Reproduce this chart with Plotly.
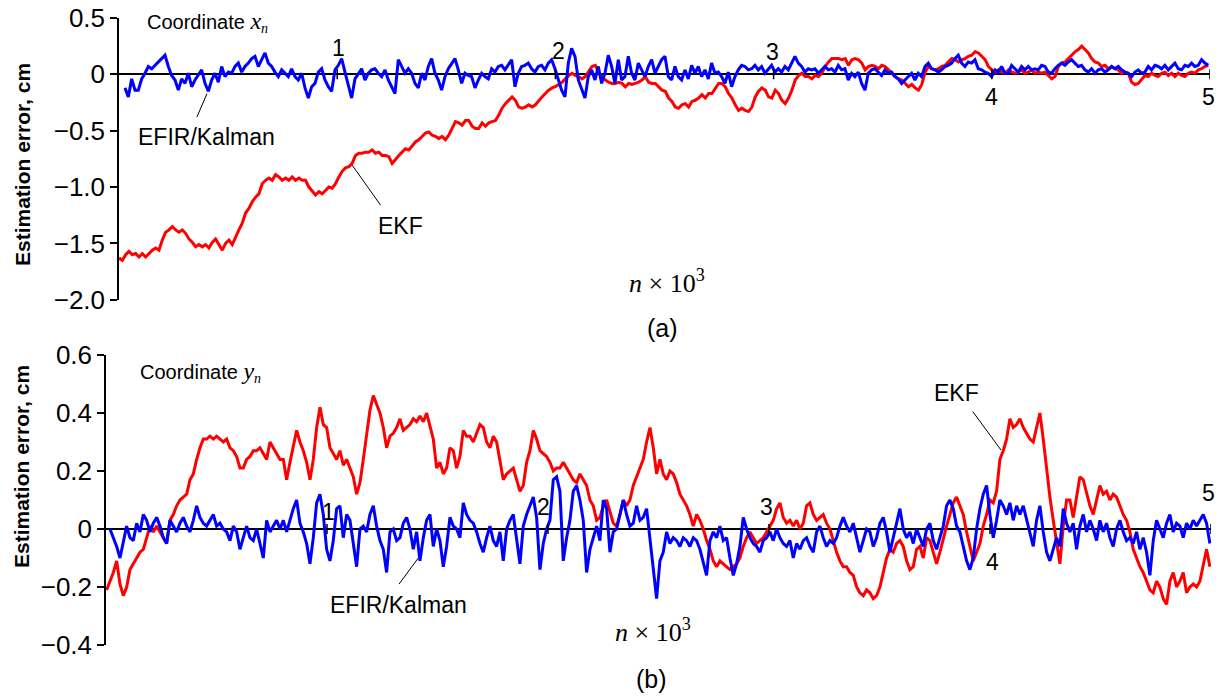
import numpy as np
import plotly.graph_objects as go

W, H = 1217, 698

# ---------------- data: (a) coordinate x_n ----------------
top_blue = [
    -0.12, -0.20, -0.04, -0.14, -0.14, -0.04, 0.01, 0.07, 0.05, 0.08,
    0.11, 0.14, 0.17, 0.07, -0.01, -0.05, -0.14, -0.04, -0.08, 0.01,
    -0.11, -0.05, -0.01, 0.04, -0.08, -0.15, -0.05, 0.01, -0.07, 0.07,
    -0.02, 0.02, 0.01, 0.07, 0.10, 0.02, 0.07, 0.10, 0.14, 0.16,
    0.07, 0.13, 0.19, 0.10, 0.07, 0.02, -0.02, 0.04, 0.01, -0.02,
    0.05, -0.02, -0.05, 0.01, -0.12, -0.21, -0.11, -0.08, 0.02, 0.05,
    -0.05, -0.11, -0.15, 0.04, 0.08, 0.14, 0.02, -0.11, -0.21, -0.04,
    0.01, 0.05, -0.05, 0.01, 0.04, 0.05, 0.01, -0.02, 0.04, -0.05,
    -0.11, -0.17, 0.13, 0.07, 0.01, 0.05, 0.01, -0.08, -0.12, 0.01,
    -0.05, 0.07, 0.14, 0.01, -0.05, -0.14, -0.02, 0.05, 0.10, 0.14,
    0.04, -0.08, 0.01, -0.01, -0.02, -0.12, -0.05, 0.01,
    -0.02, -0.04, 0.05, 0.02, 0.07, 0.08, 0.04, 0.08, 0.13, -0.11,
    0.01, 0.07, 0.08, 0.10, 0.05, 0.02, 0.07, 0.08, 0.04, 0.10,
    0.13, 0.05, -0.04, -0.14, -0.20, 0.10, 0.23, 0.16, -0.05, -0.14,
    -0.21, -0.02, 0.04, -0.05, 0.07, -0.08, 0.01, 0.17, 0.07, -0.08,
    0.13, -0.05, -0.02, 0.16, 0.01, -0.05, 0.10, 0.04, -0.02, 0.07,
    0.13, 0.01, 0.07, 0.13, 0.16, -0.02, -0.05, 0.07, -0.02, -0.05,
    0.04, -0.04, 0.08, 0.01, 0.07, -0.02, 0.04, -0.04, 0.10, 0.01,
    0.02, -0.02, -0.08, 0.02, -0.11, -0.02, 0.04, 0.08, 0.07, 0.04,
    0.05, 0.08, 0.04, 0.07, 0.01, 0.05, 0.08, 0.02, 0.05, 0.02,
    0.07, 0.04, 0.10, 0.16, 0.10, 0.07, 0.02, 0.05, 0.04, 0.05,
    0.01, 0.04, 0.07, 0.04, 0.05, 0.02, 0.08, 0.04, 0.05, -0.05,
    0.01, -0.02, 0.02, -0.08, -0.14, 0.01, 0.04, 0.05, 0.02, -0.01,
    0.04, 0.01, 0.02, -0.02, -0.04, -0.08, -0.05, -0.02, 0.01, -0.05,
    0.01, -0.02, 0.07, 0.10, 0.05, 0.04, 0.02, 0.04, 0.07, 0.08,
    0.10, 0.14, 0.17, 0.10, 0.07, 0.11, 0.10, 0.13, 0.05, 0.04,
    0.02, 0.01, -0.02, 0.04, 0.02, 0.07, 0.01, 0.01, 0.08, 0.05,
    0.02, 0.07, 0.04, 0.07, 0.04, 0.05, 0.04, 0.08, 0.07, 0.02,
    0.01, 0.05, 0.08, 0.10, 0.08, 0.11, 0.13, 0.10, 0.07, 0.08,
    0.04, 0.02, 0.05, 0.01, 0.04, 0.05, 0.02, 0.04, 0.07, 0.05,
    0.07, 0.04, 0.02, 0.01, -0.02, 0.02, 0.04, 0.01, 0.02, 0.07,
    0.04, 0.08, 0.07, 0.05, 0.08, 0.04, 0.07, 0.10, 0.05, 0.04,
    0.08, 0.07, 0.10, 0.07, 0.08, 0.13, 0.10, 0.08,
]
top_red = [
    -1.63, -1.65, -1.60, -1.57, -1.60, -1.59, -1.62, -1.59, -1.62, -1.59,
    -1.56, -1.54, -1.56, -1.47, -1.40, -1.38, -1.35, -1.38, -1.40, -1.38,
    -1.41, -1.46, -1.49, -1.53, -1.51, -1.53, -1.51, -1.54, -1.49, -1.46,
    -1.51, -1.56, -1.50, -1.47, -1.51, -1.44, -1.38, -1.32, -1.23, -1.19,
    -1.13, -1.09, -1.06, -0.97, -0.94, -0.92, -0.94, -0.89, -0.91, -0.94,
    -0.92, -0.94, -0.91, -0.94, -0.92, -0.94, -0.94, -1.00, -1.04, -1.07,
    -1.04, -1.06, -1.03, -1.00, -1.01, -0.97, -0.91, -0.86, -0.83, -0.82,
    -0.79, -0.72, -0.70, -0.70, -0.69, -0.69, -0.67, -0.70, -0.69, -0.72,
    -0.72, -0.73, -0.79, -0.75, -0.72, -0.69, -0.66, -0.67, -0.63, -0.60,
    -0.58, -0.55, -0.52, -0.51, -0.54, -0.55, -0.57, -0.55, -0.58, -0.54,
    -0.48, -0.42, -0.43, -0.45, -0.41, -0.41, -0.46, -0.48, -0.48, -0.43,
    -0.46, -0.43, -0.42, -0.41, -0.36, -0.30, -0.26, -0.23, -0.20, -0.23,
    -0.29, -0.30, -0.29, -0.27, -0.29, -0.27, -0.23, -0.20, -0.17, -0.14,
    -0.12, -0.11, -0.09, -0.07, -0.04, -0.01, 0.01, -0.01, -0.02, -0.04,
    -0.02, 0.02, 0.07, 0.08, 0.02, -0.02, -0.05, -0.07, -0.08, -0.08,
    -0.07, -0.08, -0.11, -0.08, -0.09, -0.08, -0.07, -0.05, -0.02, -0.07,
    -0.08, -0.08, -0.11, -0.14, -0.15, -0.21, -0.24, -0.29, -0.30, -0.27,
    -0.26, -0.29, -0.24, -0.23, -0.21, -0.18, -0.21, -0.17, -0.17, -0.12,
    -0.08, -0.08, -0.11, -0.17, -0.21, -0.27, -0.32, -0.30, -0.32, -0.33,
    -0.29, -0.20, -0.15, -0.12, -0.14, -0.20, -0.21, -0.14, -0.17, -0.23,
    -0.26, -0.21, -0.14, -0.05, -0.01, 0.01, -0.02, -0.02, -0.04, -0.01,
    -0.02, 0.01, 0.07, 0.11, 0.14, 0.14, 0.14, 0.13, 0.14, 0.08,
    0.13, 0.14, 0.13, 0.10, 0.04, 0.07, 0.08, 0.07, 0.05, 0.08,
    0.07, 0.04, 0.01, -0.02, -0.04, -0.05, -0.08, -0.11, -0.09, -0.12,
    -0.14, -0.09, 0.02, 0.07, 0.05, 0.04, 0.05, 0.07, 0.08, 0.11,
    0.14, 0.13, 0.11, 0.13, 0.14, 0.16, 0.17, 0.20, 0.19, 0.16,
    0.13, 0.07, 0.04, 0.02, 0.04, 0.02, 0.01, 0.04, 0.02, 0.01,
    0.02, 0.04, 0.01, 0.02, 0.04, 0.01, 0.02, 0.01, 0.02, -0.01,
    -0.04, -0.02, 0.07, 0.10, 0.11, 0.14, 0.17, 0.20, 0.22, 0.25,
    0.22, 0.19, 0.14, 0.11, 0.10, 0.07, 0.08, 0.05, 0.07, 0.05,
    0.04, 0.01, 0.02, 0.01, -0.07, -0.09, -0.08, -0.04, -0.01, -0.02,
    0.01, -0.01, -0.02, 0.01, 0.02, -0.01, 0.01, -0.02, 0.01, -0.01,
    -0.02, 0.01, 0.02, 0.01, 0.04, 0.05, 0.07, 0.08,
]
top_blue_n0, top_blue_n1 = 0.0275, 4.992
top_red_n0, top_red_n1 = 0.0, 4.992

# ---------------- data: (b) coordinate y_n ----------------
bot_blue = [
    0.00, -0.03, -0.06, -0.10, -0.04, 0.01, -0.03, -0.04, 0.02, -0.01,
    0.05, 0.03, -0.01, 0.02, 0.04, 0.01, -0.03, -0.05, 0.03, 0.01,
    -0.01, 0.02, 0.04, 0.01, -0.01, 0.03, 0.08, 0.04, 0.02, 0.01,
    0.03, 0.05, 0.01, 0.02, 0.00, -0.01, -0.04, 0.01, -0.01, -0.07,
    -0.03, 0.01, -0.03, -0.04, 0.00, -0.05, -0.10, 0.03, -0.01, 0.01,
    0.03, 0.00, 0.03, -0.01, 0.03, 0.07, 0.10, 0.02, -0.01, -0.05,
    -0.12, -0.03, 0.09, 0.12, 0.05, -0.07, -0.11, -0.04, 0.07, 0.08,
    -0.03, 0.05, 0.03, -0.05, -0.13, 0.00, 0.01, -0.01, 0.05, 0.08,
    0.01, -0.04, -0.07, -0.15, -0.01, 0.00, -0.04, -0.03, 0.02, 0.04,
    0.00, -0.07, -0.01, -0.11, -0.03, 0.03, 0.05, -0.06, 0.00, -0.04,
    -0.13, -0.06, 0.04, 0.01, 0.00, -0.03, 0.09, 0.05, 0.03, 0.02,
    -0.01, -0.05, -0.08, -0.03, 0.01, -0.04, -0.06, -0.01, -0.11, 0.00,
    0.03, 0.05, -0.03, -0.12, 0.01, 0.05, 0.08, 0.11, 0.04, -0.14,
    -0.05, 0.00, 0.03, 0.17, 0.18, 0.13, -0.11, -0.03, 0.03, 0.13,
    0.15, 0.10, 0.03, -0.15, -0.07, -0.03, 0.01, -0.04, 0.10, 0.07,
    -0.08, -0.01, 0.00, 0.05, 0.10, 0.05, 0.01, 0.02, 0.08, 0.03,
    0.04, 0.07, -0.03, -0.13, -0.24, -0.11, -0.08, -0.01, -0.05, -0.03,
    -0.04, -0.06, -0.03, -0.04, -0.06, -0.03, -0.04, -0.07, -0.12, -0.16,
    -0.04, -0.01, -0.03, 0.01, -0.04, -0.03, -0.10, -0.16, -0.12, -0.06,
    0.04, 0.00, -0.03, -0.05, -0.06, -0.08, -0.04, -0.03, -0.01, -0.04,
    0.00, -0.03, -0.05, -0.06, -0.04, -0.10, -0.05, -0.07, -0.04, -0.03,
    -0.06, -0.08, -0.01, 0.01, -0.03, -0.06, -0.04, -0.05, -0.03, 0.01, 0.04,
    0.01, -0.01, 0.02, -0.03, -0.08, -0.04, 0.00, -0.01, -0.06, -0.03,
    0.02, 0.04, -0.01, -0.08, -0.03, 0.01, 0.07, 0.00, -0.03, -0.01,
    -0.05, 0.00, -0.03, -0.06, 0.00, 0.02, -0.04, -0.07, -0.03, 0.01,
    0.08, 0.10, 0.07, 0.01, -0.01, -0.06, -0.11, -0.14, -0.10, 0.00,
    0.07, 0.12, 0.15, 0.05, -0.03, 0.03, 0.10, 0.08, 0.05, 0.09,
    0.03, 0.08, 0.05, 0.08, 0.03, -0.01, -0.06, 0.03, 0.08, -0.01,
    -0.08, -0.11, -0.07, -0.03, -0.06, 0.07, 0.02, -0.01, 0.02, -0.07,
    0.01, 0.05, -0.01, 0.03, 0.00, -0.04, 0.03, -0.01, 0.02, -0.03,
    -0.06, 0.00, 0.03, -0.01, -0.04, -0.03, -0.05, -0.01, -0.07, -0.03,
    -0.08, -0.16, -0.04, 0.03, 0.00, -0.03, 0.02, 0.05, -0.01, 0.02,
    0.01, -0.03, 0.02, 0.00, 0.03, 0.01, 0.03, 0.05, 0.02, -0.05,
]
bot_red = [
    -0.21, -0.18, -0.15, -0.11, -0.19, -0.23, -0.20, -0.14, -0.12, -0.10,
    -0.08, -0.07, -0.03, 0.01, -0.01, 0.01, -0.01, -0.03, -0.05, 0.03,
    0.05, 0.08, 0.10, 0.11, 0.12, 0.17, 0.19, 0.24, 0.28, 0.31,
    0.31, 0.32, 0.31, 0.32, 0.31, 0.30, 0.31, 0.28, 0.27, 0.25,
    0.21, 0.21, 0.24, 0.25, 0.27, 0.27, 0.28, 0.26, 0.24, 0.30,
    0.28, 0.26, 0.24, 0.24, 0.17, 0.23, 0.28, 0.34, 0.30, 0.27,
    0.23, 0.17, 0.24, 0.35, 0.42, 0.36, 0.35, 0.28, 0.26, 0.24,
    0.27, 0.22, 0.24, 0.21, 0.18, 0.12, 0.16, 0.24, 0.33, 0.41,
    0.46, 0.43, 0.40, 0.35, 0.28, 0.32, 0.33, 0.35, 0.38, 0.34,
    0.35, 0.36, 0.38, 0.37, 0.39, 0.37, 0.40, 0.35, 0.31, 0.21,
    0.23, 0.19, 0.21, 0.28, 0.27, 0.21, 0.25, 0.34, 0.32, 0.32, 0.30,
    0.33, 0.36, 0.35, 0.30, 0.28, 0.32, 0.30, 0.24, 0.17, 0.19,
    0.20, 0.21, 0.17, 0.13, 0.15, 0.23, 0.27, 0.34, 0.31, 0.27,
    0.26, 0.25, 0.23, 0.20, 0.21, 0.21, 0.23, 0.21, 0.19, 0.17,
    0.16, 0.19, 0.17, 0.15, 0.10, 0.08, 0.03, 0.04, 0.08, 0.10,
    0.06, 0.02, 0.01, 0.05, 0.10, 0.08, 0.10, 0.15, 0.18, 0.21,
    0.24, 0.30, 0.35, 0.28, 0.19, 0.24, 0.19, 0.17, 0.20, 0.19,
    0.16, 0.12, 0.10, 0.08, 0.05, 0.01, 0.05, 0.03, 0.00, -0.04,
    -0.07, -0.11, -0.13, -0.11, -0.12, -0.13, -0.14, -0.13, -0.12, -0.10,
    -0.06, -0.03, -0.01, -0.03, -0.05, -0.04, -0.03, -0.01, 0.01, 0.03,
    0.07, 0.09, 0.04, 0.02, 0.03, 0.01, 0.03, 0.00, 0.02, 0.08,
    0.09, 0.05, 0.03, 0.04, 0.05, 0.02, 0.00, -0.04, -0.08, -0.11, -0.13,
    -0.13, -0.15, -0.16, -0.20, -0.22, -0.23, -0.21, -0.22, -0.24, -0.23,
    -0.20, -0.15, -0.10, -0.07, -0.08, -0.05, -0.04, -0.06, -0.11, -0.14,
    -0.13, -0.07, -0.06, -0.10, -0.03, -0.04, -0.08, -0.12, -0.08, -0.03,
    0.01, 0.05, 0.09, 0.11, 0.08, 0.05, -0.01, -0.06, -0.11, -0.08,
    -0.05, 0.01, 0.05, 0.10, 0.09, 0.13, 0.24, 0.27, 0.31, 0.38,
    0.35, 0.36, 0.38, 0.35, 0.33, 0.31, 0.30, 0.35, 0.40, 0.31,
    0.20, 0.11, 0.03, -0.04, -0.12, 0.01, 0.10, 0.10, 0.04, 0.11,
    0.18, 0.17, 0.12, 0.08, 0.05, 0.10, 0.15, 0.12, 0.13, 0.10,
    0.12, 0.11, 0.08, 0.05, 0.03, -0.01, -0.07, -0.10, -0.13, -0.15,
    -0.18, -0.21, -0.22, -0.18, -0.20, -0.24, -0.26, -0.18, -0.15, -0.20,
    -0.18, -0.15, -0.22, -0.20, -0.19, -0.20, -0.18, -0.13, -0.07, -0.13,
]
bot_blue_n0, bot_blue_n1 = 0.018, 4.995
bot_red_n0, bot_red_n1 = 0.003, 4.995

top_ticks = [0.5, 0.0, -0.5, -1.0, -1.5, -2.0]
top_ticktext = ["0.5", "0", "\u22120.5", "\u22121.0", "\u22121.5", "\u22122.0"]
bot_ticks = [0.6, 0.4, 0.2, 0.0, -0.2, -0.4]
bot_ticktext = ["0.6", "0.4", "0.2", "0", "\u22120.2", "\u22120.4"]
n_marks = [1, 2, 3, 4, 5]

RED = "#ff0000"
BLUE = "#0000ff"
SANS = "Liberation Sans, Arial, sans-serif"
SERIF = "Liberation Serif, Times New Roman, serif"

fig = go.Figure()
fig.add_trace(go.Scatter(x=np.linspace(top_red_n0, top_red_n1, len(top_red)), y=top_red,
                         mode="lines", line=dict(color=RED, width=3), xaxis="x", yaxis="y"))
fig.add_trace(go.Scatter(x=np.linspace(top_blue_n0, top_blue_n1, len(top_blue)), y=top_blue,
                         mode="lines", line=dict(color=BLUE, width=3), xaxis="x", yaxis="y"))
fig.add_trace(go.Scatter(x=np.linspace(bot_red_n0, bot_red_n1, len(bot_red)), y=bot_red,
                         mode="lines", line=dict(color=RED, width=3), xaxis="x2", yaxis="y2"))
fig.add_trace(go.Scatter(x=np.linspace(bot_blue_n0, bot_blue_n1, len(bot_blue)), y=bot_blue,
                         mode="lines", line=dict(color=BLUE, width=3), xaxis="x2", yaxis="y2"))


def yax(domain, rng, vals, text, anchor):
    return dict(domain=domain, range=rng, anchor=anchor, showline=True, linecolor="black",
                linewidth=1.5, ticks="outside", ticklen=7, tickwidth=1.5, tickcolor="black",
                tickvals=vals, ticktext=text, tickfont=dict(family=SANS, size=26, color="black"),
                showgrid=False, zeroline=True, zerolinecolor="black", zerolinewidth=1.5,
                automargin=False, fixedrange=True)


fig.update_layout(
    width=W, height=H, autosize=False,
    margin=dict(l=0, r=0, t=0, b=0, pad=0, autoexpand=False),
    paper_bgcolor="white", plot_bgcolor="rgba(0,0,0,0)",
    showlegend=False,
    xaxis=dict(domain=[119 / W, 1210 / W], range=[0, 5], visible=False, anchor="y",
               automargin=False),
    yaxis=yax([1 - 299.8 / H, 1 - 18 / H], [-2.0, 0.5], top_ticks, top_ticktext, "x"),
    xaxis2=dict(domain=[106 / W, 1211 / W], range=[0, 5], visible=False, anchor="y2",
                automargin=False),
    yaxis2=yax([1 - 645 / H, 1 - 355 / H], [-0.4, 0.6], bot_ticks, bot_ticktext, "x2"),
)

shapes = []
for k in n_marks:
    for xr, yr in (("x", "y"), ("x2", "y2")):
        shapes.append(dict(type="line", xref=xr, yref=yr, x0=k, x1=k, ysizemode="pixel",
                           yanchor=0, y0=-5, y1=5, line=dict(color="black", width=1.5)))
# leader lines
leaders = [
    ("x", "y", 0.357, -0.379, 0.403, -0.172),
    ("x", "y", 1.199, -1.161, 1.069, -0.806),
    ("x2", "y2", 1.326, -0.19, 1.413, -0.10),
    ("x2", "y2", 3.922, 0.405, 4.050, 0.272),
]
for xr, yr, x0, y0, x1, y1 in leaders:
    shapes.append(dict(type="line", xref=xr, yref=yr, x0=x0, y0=y0, x1=x1, y1=y1,
                       line=dict(color="black", width=1)))
fig.update_layout(shapes=shapes)


def ann(px, py, text, size=23, family=SANS, xanchor="center", bold=False, angle=0):
    if bold:
        text = "<b>" + text + "</b>"
    return dict(x=px / W, y=1 - py / H, xref="paper", yref="paper", text=text, showarrow=False,
                xanchor=xanchor, yanchor="middle", textangle=angle,
                font=dict(family=family, size=size, color="black"))


it_big = ('<span style="font-family:Liberation Serif, Times New Roman, serif;'
          'font-size:24px"><i>%s</i></span>')
it_sm = '<span style="font-family:Liberation Serif, Times New Roman, serif"><i>%s</i></span>'
annotations = [
    ann(23, 165, "Estimation error, cm", size=21, bold=True, angle=-90),
    ann(21, 467, "Estimation error, cm", size=21, bold=True, angle=-90),
    ann(145, 22, "Coordinate " + (it_big % "x") + "<sub>" + (it_sm % "n") + "</sub>",
        size=20, xanchor="left"),
    ann(138, 372, "Coordinate " + (it_big % "y") + "<sub>" + (it_sm % "n") + "</sub>",
        size=20, xanchor="left"),
    ann(206, 137, "EFIR/Kalman"),
    ann(400, 226, "EKF"),
    ann(398, 605, "EFIR/Kalman"),
    ann(956, 393, "EKF"),
    ann(667, 281, "<i>n</i> \u00d7 10<sup>3</sup>", size=26, family=SERIF),
    ann(653, 630, "<i>n</i> \u00d7 10<sup>3</sup>", size=26, family=SERIF),
    ann(662, 328, "(a)", size=25),
    ann(651, 679, "(b)", size=25),
]
top_lab = [(338, 48), (558, 51), (773, 52), (991, 97), (1208, 97)]
bot_lab = [(328, 512), (543, 507), (766, 507), (992, 562), (1208, 493)]
for k, (px, py) in zip(n_marks, top_lab):
    annotations.append(ann(px, py, str(k)))
for k, (px, py) in zip(n_marks, bot_lab):
    annotations.append(ann(px, py, str(k)))
fig.update_layout(annotations=annotations)

fig.write_html("out.html")
